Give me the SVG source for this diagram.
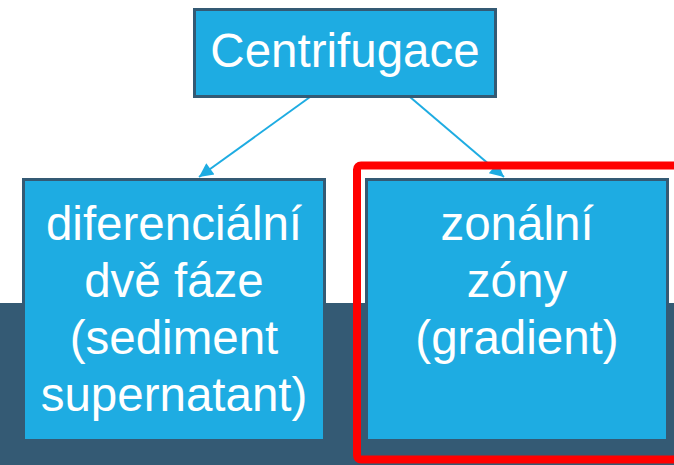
<svg xmlns="http://www.w3.org/2000/svg" width="674" height="465" viewBox="0 0 674 465">
<style>
.box{fill:#1eace2;stroke:#345a74;stroke-width:3}
.t{font-family:"Liberation Sans",Arial,sans-serif;font-size:47.5px;fill:#ffffff;text-anchor:middle}
.con{stroke:#1eace2;stroke-width:2;fill:none;marker-end:url(#ah)}
</style>
<defs>
<marker id="ah" viewBox="0 0 10 10" refX="10" refY="5" markerWidth="8.5" markerHeight="7" markerUnits="strokeWidth" orient="auto">
<path d="M0,0 L10,5 L0,10 z" fill="#1eace2"/>
</marker>
</defs>
<rect x="0" y="0" width="674" height="465" fill="#ffffff"/>
<rect id="band" x="0" y="303" width="674" height="162" fill="#345a74"/>
<g id="connectors">
<line class="con" x1="310" y1="97" x2="199" y2="177"/>
<line class="con" x1="410" y1="97" x2="504" y2="177"/>
</g>
<g id="centrifugace">
<rect class="box" x="194.5" y="9.5" width="301" height="87"/>
<text class="t" x="345" y="67">Centrifugace</text>
</g>
<g id="diferencialni">
<rect class="box" x="23.5" y="179.5" width="301" height="261"/>
<text class="t" x="174" y="240">diferenciální</text>
<text class="t" x="174" y="297">dvě fáze</text>
<text class="t" x="174" y="354">(sediment</text>
<text class="t" x="174" y="411">supernatant)</text>
</g>
<g id="zonalni">
<rect class="box" x="366.5" y="179.5" width="301" height="261"/>
<text class="t" x="517" y="240">zonální</text>
<text class="t" x="517" y="297">zóny</text>
<text class="t" x="517" y="354">(gradient)</text>
</g>
<rect id="highlight" x="357" y="165.5" width="340" height="294" rx="4" fill="none" stroke="#ff0000" stroke-width="8"/>
</svg>
